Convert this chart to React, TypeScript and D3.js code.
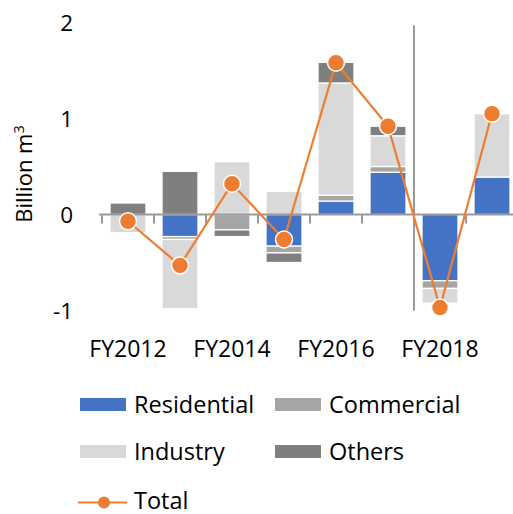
import { useEffect, useRef } from "react";
import * as d3 from "d3";

const years = ["FY2012", "FY2013", "FY2014", "FY2015", "FY2016", "FY2017", "FY2018", "FY2019"];
const tickYears = ["FY2012", "FY2014", "FY2016", "FY2018"];
const residential = [0, -0.23, 0, -0.33, 0.14, 0.44, -0.69, 0.39];
const commercial = [0, -0.03, -0.16, -0.07, 0.06, 0.06, -0.08, 0];
const industry = [-0.19, -0.72, 0.55, 0.24, 1.17, 0.32, -0.155, 0.66];
const others = [0.12, 0.45, -0.07, -0.1, 0.215, 0.1, 0, 0];
const total = [-0.07, -0.53, 0.32, -0.26, 1.58, 0.92, -0.97, 1.05];
const yTicks = [-1, 0, 1, 2];

const seriesNames = ["Residential", "Commercial", "Industry", "Others"];
const colors = ["#4472C4", "#A5A5A5", "#D9D9D9", "#7F7F7F"];
const orange = "#ED7D31";
const axisColor = "#9A9A9A";
const font = "'Open Sans', 'Noto Sans', sans-serif";

export default function App() {
  const svgRef = useRef<SVGSVGElement>(null);

  useEffect(() => {
    if (!svgRef.current) return;
    const svg = d3.select(svgRef.current);
    svg.selectAll("*").remove();

    const x = d3.scaleBand().domain(years).range([102, 518]);
    const y = d3.scaleLinear().domain([-1, 2]).range([310.5, 22.5]);
    const barW = 36;

    const rows = years.map((yr, i) => ({
      year: yr,
      Residential: residential[i],
      Commercial: commercial[i],
      Industry: industry[i],
      Others: others[i],
    }));
    const stacked = d3
      .stack<any>()
      .keys(seriesNames)
      .offset(d3.stackOffsetDiverging)(rows);

    // bars
    stacked.forEach((s, si) => {
      svg
        .append("g")
        .selectAll("rect")
        .data(s.filter((d) => d[1] - d[0] !== 0))
        .join("rect")
        .attr("x", (d) => x(d.data.year)! + (x.bandwidth() - barW) / 2)
        .attr("width", barW)
        .attr("y", (d) => y(Math.max(d[0], d[1])))
        .attr("height", (d) => Math.abs(y(d[0]) - y(d[1])))
        .attr("fill", colors[si])
        .attr("stroke", "#fff")
        .attr("stroke-width", 1.3);
    });

    // zero axis + ticks
    svg
      .append("line")
      .attr("x1", 99)
      .attr("x2", 513)
      .attr("y1", y(0))
      .attr("y2", y(0))
      .attr("stroke", axisColor)
      .attr("stroke-width", 2);
    const bounds = years.map((yr) => x(yr)!).concat([x.range()[1]]);
    svg
      .append("g")
      .selectAll("line")
      .data(bounds)
      .join("line")
      .attr("x1", (d) => d)
      .attr("x2", (d) => d)
      .attr("y1", y(0))
      .attr("y2", y(0) + 9)
      .attr("stroke", axisColor)
      .attr("stroke-width", 2);

    // divider between FY2017 and FY2018
    const divX = x("FY2018")!;
    svg
      .append("line")
      .attr("x1", divX)
      .attr("x2", divX)
      .attr("y1", y(1.97))
      .attr("y2", y(-1))
      .attr("stroke", axisColor)
      .attr("stroke-width", 2);

    // total line
    const line = d3
      .line<number>()
      .x((_, i) => x(years[i])! + x.bandwidth() / 2)
      .y((d) => y(d));
    svg
      .append("path")
      .datum(total)
      .attr("fill", "none")
      .attr("stroke", orange)
      .attr("stroke-width", 2.2)
      .attr("d", line);
    svg
      .append("g")
      .selectAll("circle")
      .data(total)
      .join("circle")
      .attr("cx", (_, i) => x(years[i])! + x.bandwidth() / 2)
      .attr("cy", (d) => y(d))
      .attr("r", 8.5)
      .attr("fill", orange)
      .attr("stroke", "#fff")
      .attr("stroke-width", 1.5);

    // y tick labels
    svg
      .append("g")
      .selectAll("text")
      .data(yTicks)
      .join("text")
      .attr("x", 73)
      .attr("y", (d) => y(d) + 8)
      .attr("text-anchor", "end")
      .attr("font-family", font)
      .attr("font-size", 22.5)
      .attr("fill", "#000")
      .text((d) => (d < 0 ? "-" + Math.abs(d) : String(d)));

    // y title
    const title = svg
      .append("text")
      .attr("transform", `translate(32,174) rotate(-90)`)
      .attr("text-anchor", "middle")
      .attr("font-family", font)
      .attr("font-size", 22)
      .attr("fill", "#000");
    title.append("tspan").text("Billion m");
    title.append("tspan").attr("dy", -8).attr("font-size", 14.5).text("3");

    // x labels
    svg
      .append("g")
      .selectAll("text")
      .data(tickYears)
      .join("text")
      .attr("x", (d) => x(d)! + x.bandwidth() / 2)
      .attr("y", 357)
      .attr("text-anchor", "middle")
      .attr("font-family", font)
      .attr("font-size", 23)
      .attr("fill", "#000")
      .text((d) => d);

    // legend
    const legendPos = [
      [80, 398],
      [275, 398],
      [80, 445],
      [275, 445],
    ];
    seriesNames.forEach((name, i) => {
      const [lx, ly] = legendPos[i];
      svg
        .append("rect")
        .attr("x", lx)
        .attr("y", ly)
        .attr("width", 46)
        .attr("height", 13)
        .attr("fill", colors[i]);
      svg
        .append("text")
        .attr("x", lx + 54)
        .attr("y", ly + 15)
        .attr("font-family", font)
        .attr("font-size", 23.5)
        .attr("fill", "#000")
        .text(name);
    });
    svg
      .append("line")
      .attr("x1", 78)
      .attr("x2", 127)
      .attr("y1", 502.5)
      .attr("y2", 502.5)
      .attr("stroke", orange)
      .attr("stroke-width", 2.2);
    svg
      .append("circle")
      .attr("cx", 104)
      .attr("cy", 502.5)
      .attr("r", 6)
      .attr("fill", orange);
    svg
      .append("text")
      .attr("x", 134)
      .attr("y", 509)
      .attr("font-family", font)
      .attr("font-size", 23.5)
      .attr("fill", "#000")
      .text("Total");
  }, []);

  return (
    <svg
      ref={svgRef}
      width={513}
      height={514}
      style={{ position: "absolute", left: 0, top: 0, background: "#fff" }}
    ></svg>
  );
}
